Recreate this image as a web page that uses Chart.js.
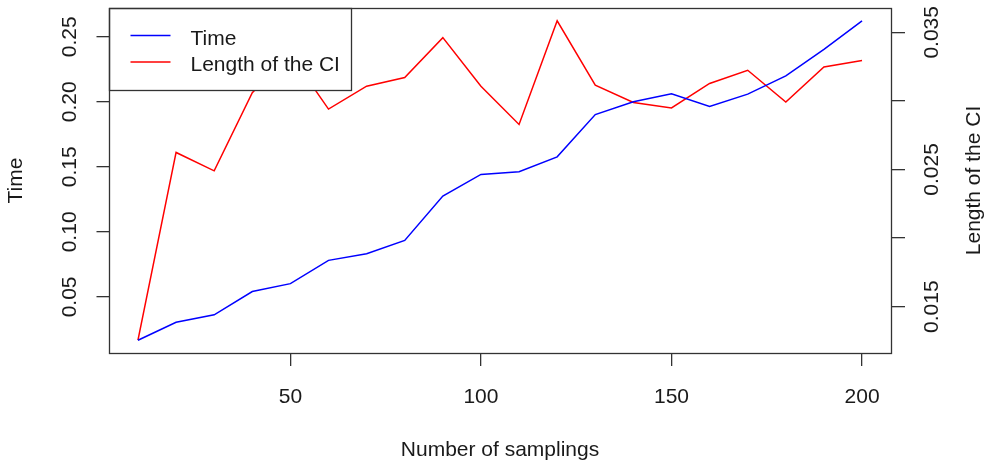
<!DOCTYPE html>
<html>
<head>
<meta charset="utf-8">
<script src="https://cdn.jsdelivr.net/npm/chart.js@4/dist/chart.umd.min.js"></script>
<style>
  html, body { margin: 0; padding: 0; background: #ffffff; }
  #wrap { width: 988px; height: 463px; position: relative; }
</style>
</head>
<body>
<div id="wrap"><canvas id="c"></canvas></div>
<script>
// Number of samplings on the x axis
const samplings = [10, 20, 30, 40, 50, 60, 70, 80, 90, 100,
                   110, 120, 130, 140, 150, 160, 170, 180, 190, 200];
// Computation time (left axis)
const timeValues = [0.0167, 0.0305, 0.0362, 0.0541, 0.0602, 0.0781, 0.0832, 0.0934, 0.1276, 0.1442,
                    0.1463, 0.1577, 0.1902, 0.2000, 0.2061, 0.1964, 0.2059, 0.2199, 0.2403, 0.2623];
// Length of the confidence interval (right axis)
const ciValues = [0.01255, 0.02624, 0.0249, 0.0306, 0.0334, 0.0294, 0.03107, 0.03170, 0.03461, 0.03107,
                  0.02828, 0.03584, 0.03114, 0.02988, 0.02949, 0.03127, 0.03223, 0.02991, 0.03247, 0.03294];

const xTickValues = [50, 100, 150, 200];
const timeTickValues = [0.05, 0.10, 0.15, 0.20, 0.25];
const timeTickLabels = ['0.05', '0.10', '0.15', '0.20', '0.25'];
const ciTickValues = [0.015, 0.020, 0.025, 0.030, 0.035];
const ciTickLabels = ['0.015', '', '0.025', '', '0.035'];

const seriesNames = ['Time', 'Length of the CI'];
const seriesColors = ['#0000ff', '#ff0000'];
const xTitle = 'Number of samplings';
const leftTitle = 'Time';
const rightTitle = 'Length of the CI';

const FONT = '"Liberation Sans", Arial, Helvetica, sans-serif';
const FONT_SIZE = 21;
const INK = '#1a1a1a';
const AXIS = '#333333';

// Extend a data range by 4% on each side, like base R graphics
function padRange(vals) {
  const lo = Math.min(...vals), hi = Math.max(...vals), d = (hi - lo) * 0.04;
  return { min: lo - d, max: hi + d };
}
const xRange = padRange(samplings);
const timeRange = padRange(timeValues);
const ciRange = padRange(ciValues);

function fixedTicks(values) {
  return function (scale) { scale.ticks = values.map(v => ({ value: v })); };
}
function labelFor(values, labels) {
  return function (value) {
    const i = values.findIndex(v => Math.abs(v - value) < 1e-9);
    return i >= 0 ? labels[i] : '';
  };
}
// Fixed axis sizes, with no extra room reserved for overhanging labels
function fitSize(prop, size) {
  return function (scale) {
    scale[prop] = size;
    scale.paddingTop = 0; scale.paddingBottom = 0;
    scale.paddingLeft = 0; scale.paddingRight = 0;
  };
}

// Box around the plot, the legend and the right-hand axis title
const decorations = {
  id: 'decorations',
  afterDatasetsDraw(chart) {
    const { ctx, chartArea: a } = chart;
    ctx.save();
    // legend
    const lx = Math.round(a.left) + 0.5, ly = Math.round(a.top) + 0.5;
    const lw = 242, lh = 82;
    ctx.fillStyle = '#ffffff';
    ctx.fillRect(lx, ly, lw, lh);
    ctx.strokeStyle = AXIS;
    ctx.lineWidth = 1.3;
    ctx.strokeRect(lx, ly, lw, lh);
    ctx.font = FONT_SIZE + 'px ' + FONT;
    ctx.textAlign = 'left';
    ctx.textBaseline = 'alphabetic';
    chart.data.datasets.forEach((ds, i) => {
      const y = ly + 27 + i * 26.5;
      ctx.strokeStyle = ds.borderColor;
      ctx.lineWidth = ds.borderWidth;
      ctx.beginPath();
      ctx.moveTo(lx + 21, y);
      ctx.lineTo(lx + 61, y);
      ctx.stroke();
      ctx.fillStyle = INK;
      ctx.fillText(ds.label, lx + 81, y + 9);
    });
    // frame
    ctx.strokeStyle = AXIS;
    ctx.lineWidth = 1.3;
    ctx.strokeRect(Math.round(a.left) + 0.5, Math.round(a.top) + 0.5,
                   Math.round(a.right - a.left), Math.round(a.bottom - a.top));
    // right axis title, reading bottom to top
    ctx.fillStyle = INK;
    ctx.textAlign = 'center';
    ctx.textBaseline = 'middle';
    ctx.translate(974, (a.top + a.bottom) / 2);
    ctx.rotate(-Math.PI / 2);
    ctx.fillText(rightTitle, 0, 0);
    ctx.restore();
  }
};

const tickFont = { family: FONT, size: FONT_SIZE };

new Chart(document.getElementById('c'), {
  type: 'line',
  data: {
    datasets: [
      {
        label: seriesNames[0],
        data: samplings.map((x, i) => ({ x: x, y: timeValues[i] })),
        borderColor: seriesColors[0],
        borderWidth: 1.5,
        yAxisID: 'yTime',
        pointRadius: 0,
        tension: 0,
        fill: false
      },
      {
        label: seriesNames[1],
        data: samplings.map((x, i) => ({ x: x, y: ciValues[i] })),
        borderColor: seriesColors[1],
        borderWidth: 1.5,
        yAxisID: 'yCI',
        pointRadius: 0,
        tension: 0,
        fill: false
      }
    ]
  },
  options: {
    responsive: true,
    maintainAspectRatio: false,
    animation: false,
    devicePixelRatio: 1,
    layout: { autoPadding: false, padding: { top: 8, left: 0, right: 0, bottom: 0 } },
    plugins: {
      legend: { display: false },
      tooltip: { enabled: false },
      title: { display: false }
    },
    scales: {
      x: {
        type: 'linear',
        position: 'bottom',
        min: xRange.min,
        max: xRange.max,
        afterBuildTicks: fixedTicks(xTickValues),
        afterFit: fitSize('height', 110),
        grid: { drawOnChartArea: false, drawTicks: true, tickLength: 13, color: AXIS, lineWidth: 1.3 },
        border: { display: false },
        ticks: {
          autoSkip: false, maxRotation: 0, minRotation: 0, padding: 19,
          font: tickFont, color: INK,
          callback: v => String(v)
        },
        title: {
          display: true, text: xTitle, color: INK,
          font: { family: FONT, size: FONT_SIZE },
          padding: { top: 0, bottom: 0 }
        }
      },
      yTime: {
        type: 'linear',
        position: 'left',
        min: timeRange.min,
        max: timeRange.max,
        afterBuildTicks: fixedTicks(timeTickValues),
        afterFit: fitSize('width', 109),
        grid: { drawOnChartArea: false, drawTicks: true, tickLength: 12.5, color: AXIS, lineWidth: 1.3 },
        border: { display: false },
        ticks: {
          autoSkip: false, minRotation: 90, maxRotation: 90, crossAlign: 'center', padding: 6,
          font: tickFont, color: INK,
          callback: labelFor(timeTickValues, timeTickLabels)
        },
        title: {
          display: true, text: leftTitle, color: INK,
          font: { family: FONT, size: FONT_SIZE },
          padding: { top: 4, bottom: 0 }
        }
      },
      yCI: {
        type: 'linear',
        position: 'right',
        min: ciRange.min,
        max: ciRange.max,
        afterBuildTicks: fixedTicks(ciTickValues),
        afterFit: fitSize('width', 97),
        grid: { drawOnChartArea: false, drawTicks: true, tickLength: 14, color: AXIS, lineWidth: 1.3 },
        border: { display: false },
        ticks: {
          autoSkip: false, minRotation: 90, maxRotation: 90, crossAlign: 'center', padding: 1,
          font: tickFont, color: INK,
          callback: labelFor(ciTickValues, ciTickLabels)
        }
      }
    }
  },
  plugins: [decorations]
});
</script>
</body>
</html>
